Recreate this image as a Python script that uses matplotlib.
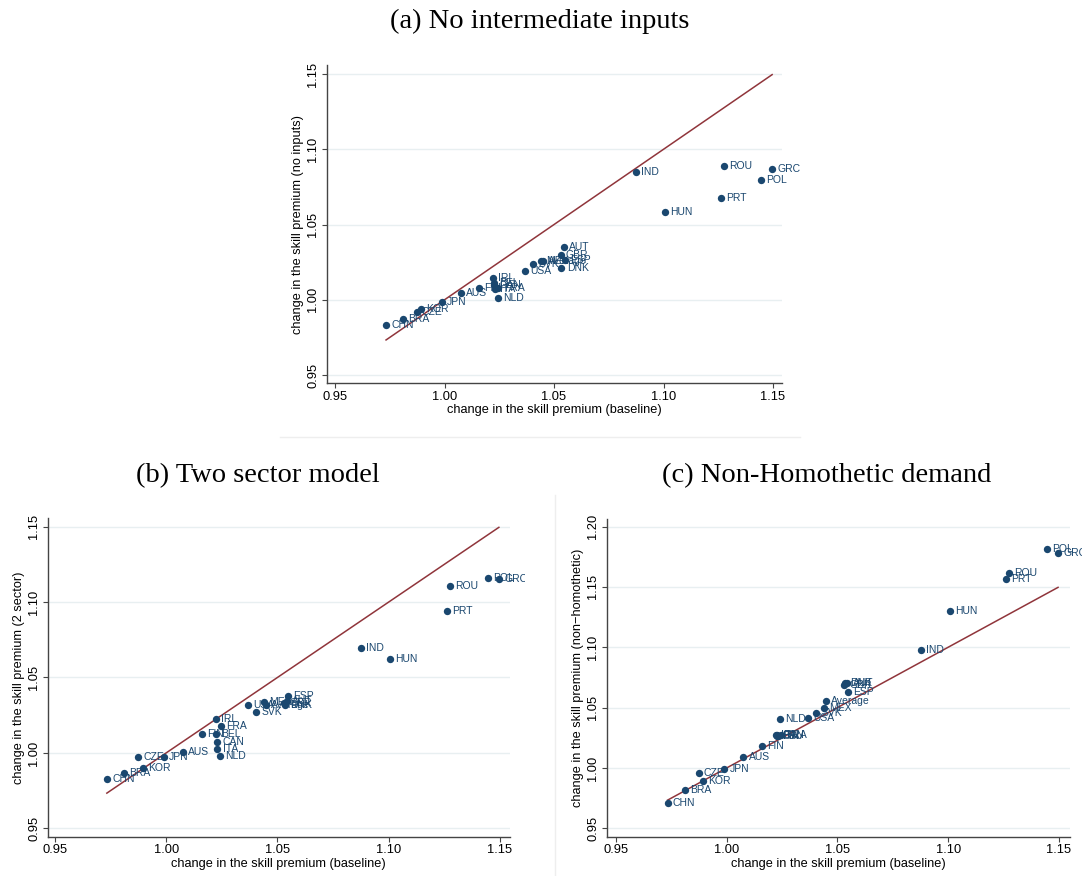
import matplotlib
matplotlib.use("Agg")
import matplotlib.pyplot as plt
from matplotlib.transforms import Bbox, TransformedBbox
import numpy as np

countries = ["CHN", "BRA", "CZE", "KOR", "JPN", "AUS", "FIN", "IRL", "BEL", "CAN",
             "ITA", "NLD", "FRA", "USA", "SVK", "MEX", "Average", "GBR", "DNK", "AUT",
             "ESP", "IND", "HUN", "PRT", "ROU", "POL", "GRC"]

baseline = [0.9733, 0.9810, 0.9873, 0.9894, 0.9988, 1.0075, 1.0159, 1.0222, 1.0225, 1.0228,
            1.0230, 1.0242, 1.0246, 1.0367, 1.0404, 1.0440, 1.0449, 1.0530, 1.0534, 1.0544,
            1.0548, 1.0875, 1.1006, 1.1262, 1.1276, 1.1445, 1.1496]

no_inputs = [0.9834, 0.9872, 0.9916, 0.9942, 0.9982, 1.0044, 1.0075, 1.0142, 1.0111, 1.0095,
             1.0071, 1.0009, 1.0077, 1.0192, 1.0241, 1.0257, 1.0257, 1.0296, 1.0212, 1.0352,
             1.0265, 1.0850, 1.0582, 1.0679, 1.0889, 1.0794, 1.0872]

two_sector = [0.9828, 0.9869, 0.9975, 0.9901, 0.9975, 1.0007, 1.0128, 1.0227, 1.0128, 1.0073,
              1.0027, 0.9977, 1.0179, 1.0320, 1.0272, 1.0336, 1.0318, 1.0330, 1.0315, 1.0345,
              1.0375, 1.0697, 1.0624, 1.0940, 1.1109, 1.1157, 1.1153]

non_homothetic = [0.9710, 0.9815, 0.9954, 0.9892, 0.9995, 1.0091, 1.0180, 1.0275, 1.0268, 1.0272,
                  1.0265, 1.0404, 1.0270, 1.0410, 1.0456, 1.0498, 1.0556, 1.0686, 1.0705, 1.0700,
                  1.0625, 1.0981, 1.1304, 1.1569, 1.1616, 1.1815, 1.1779]

titles = ["(a) No intermediate inputs", "(b) Two sector model", "(c) Non-Homothetic demand"]
ylabels = ["change in the skill premium (no inputs)",
           "change in the skill premium (2 sector)",
           "change in the skill premium (non\u2212homothetic)"]
xlabel = "change in the skill premium (baseline)"
xticks = [0.95, 1.00, 1.05, 1.10, 1.15]
yticks_ab = [0.95, 1.00, 1.05, 1.10, 1.15]
yticks_c = [0.95, 1.00, 1.05, 1.10, 1.15, 1.20]

NAVY = "#1a476f"
MAROON = "#90353b"
GRID = "#e8eff1"
SANS = "Liberation Sans"
SERIF = "Liberation Serif"

fig = plt.figure(figsize=(10.82, 8.76), dpi=100)
fig.patch.set_facecolor("white")

W, H = 1082, 876
def rect(l, t, r, b):
    return [l / W, (H - b) / H, (r - l) / W, (b - t) / H]

def region(l, t, r, b):
    return Bbox.from_extents(l / W, (H - b) / H, r / W, (H - t) / H)

axes_specs = [
    (rect(326.7, 65, 782, 383.3), no_inputs, (0.9462, 1.1541), (0.9445, 1.156), yticks_ab,
     region(280, 0, 803, 437)),
    (rect(47.7, 518.3, 510, 836.7), two_sector, (0.9467, 1.1546), (0.9444, 1.1556), yticks_ab,
     region(0, 440, 525, 876)),
    (rect(606.7, 519.3, 1070, 836.7), non_homothetic, (0.9458, 1.155), (0.943, 1.206), yticks_c,
     region(556, 440, 1082, 876)),
]

x = np.array(baseline)
for i, (pos, yvals, xl, yl, yt, reg) in enumerate(axes_specs):
    ax = fig.add_axes(pos)
    ax.set_xlim(*xl)
    ax.set_ylim(*yl)
    for s in ["top", "right"]:
        ax.spines[s].set_visible(False)
    for s in ["left", "bottom"]:
        ax.spines[s].set_color("#444444")
        ax.spines[s].set_linewidth(1.0)
    ax.set_xticks(xticks)
    ax.set_xticklabels([f"{v:.2f}" for v in xticks], fontfamily=SANS, fontsize=9.3)
    ax.set_yticks(yt)
    ax.set_yticklabels([f"{v:.2f}" for v in yt], fontfamily=SANS, fontsize=9.3,
                       rotation=90, va="center")
    ax.tick_params(axis="both", direction="out", length=3.5, width=0.8, color="#444444",
                   pad=2)
    for v in yt:
        ax.axhline(v, color=GRID, lw=1.0, zorder=0)
    ax.set_xlabel(xlabel, fontfamily=SANS, fontsize=9.2, labelpad=1)
    ax.set_ylabel(ylabels[i], fontfamily=SANS, fontsize=9.2, labelpad=2)
    lo, hi = x.min(), x.max()
    ax.plot([lo, hi], [lo, hi], color=MAROON, lw=1.1, zorder=2)
    ax.scatter(x, yvals, s=28, color=NAVY, zorder=3, linewidths=0)
    clipbox = TransformedBbox(reg, fig.transFigure)
    for c, xv, yv in zip(countries, x, yvals):
        t = ax.annotate(c, (xv, yv), xytext=(3.8, 0), textcoords="offset points",
                        ha="left", va="center", fontsize=7.5, color=NAVY,
                        fontfamily=SANS, zorder=4, annotation_clip=False)
        t.set_clip_box(clipbox)
        t.set_clip_on(True)

fig.text(540 / W, 1 - 21 / H, titles[0], ha="center", va="center",
         fontfamily=SERIF, fontsize=20.5)
fig.text(258 / W, 1 - 476 / H, titles[1], ha="center", va="center",
         fontfamily=SERIF, fontsize=20.5)
fig.text(827 / W, 1 - 476 / H, titles[2], ha="center", va="center",
         fontfamily=SERIF, fontsize=20.5)

# faint graph-region borders
fig.add_artist(plt.Line2D([280 / W, 800 / W], [1 - 437 / H, 1 - 437 / H],
                          color="#eeeeee", lw=1))
fig.add_artist(plt.Line2D([555 / W, 555 / W], [1 - 495 / H, 0],
                          color="#eeeeee", lw=1))

fig.savefig("out.png", dpi=100, facecolor="white")
